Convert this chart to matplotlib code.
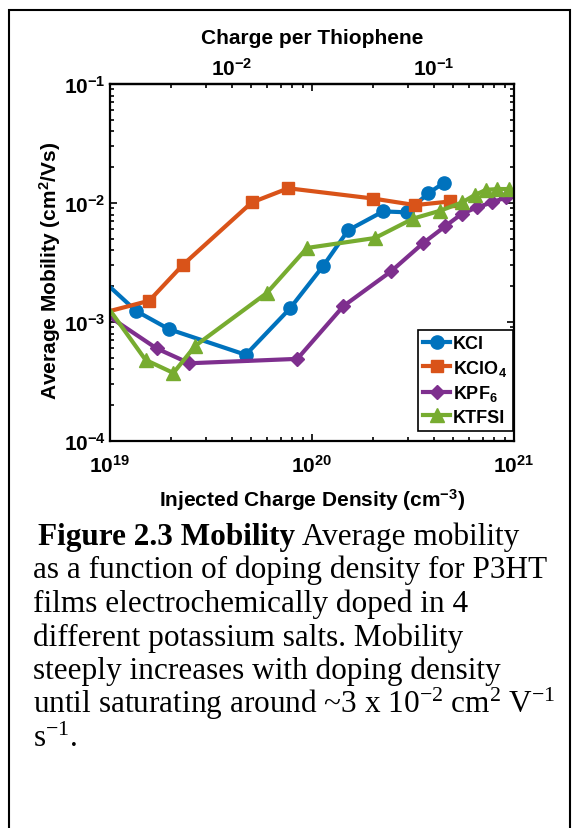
import matplotlib.pyplot as plt
from matplotlib.patches import Rectangle
from matplotlib.ticker import NullLocator

plt.rcParams['font.family'] = 'Liberation Sans'
plt.rcParams['font.weight'] = 'bold'
plt.rcParams['axes.labelweight'] = 'bold'
plt.rcParams['mathtext.fontset'] = 'custom'
plt.rcParams['mathtext.default'] = 'regular'

# injected charge density (cm^-3) and average mobility (cm^2/Vs)
KCl_n = [9.0e18, 1.345e19, 1.96e19, 4.70e19, 7.78e19, 1.138e20, 1.51e20,
         2.25e20, 2.94e20, 3.77e20, 4.48e20]
KCl_mu = [2.32e-3, 1.24e-3, 8.7e-4, 5.3e-4, 1.30e-3, 2.97e-3, 5.9e-3,
          8.5e-3, 8.35e-3, 1.21e-2, 1.47e-2]

KClO4_n = [9.0e18, 1.565e19, 2.29e19, 5.03e19, 7.63e19, 2.01e20, 3.24e20, 4.82e20]
KClO4_mu = [1.18e-3, 1.51e-3, 3.01e-3, 1.01e-2, 1.33e-2, 1.09e-2, 9.6e-3, 1.03e-2]

KPF6_n = [9.0e18, 1.70e19, 2.47e19, 8.46e19, 1.43e20, 2.46e20, 3.55e20,
          4.55e20, 5.51e20, 6.56e20, 7.78e20, 9.18e20]
KPF6_mu = [1.24e-3, 6.0e-4, 4.5e-4, 4.9e-4, 1.36e-3, 2.66e-3, 4.6e-3,
           6.35e-3, 8.1e-3, 9.2e-3, 1.01e-2, 1.12e-2]

KTFSI_n = [9.0e18, 1.50e19, 2.06e19, 2.64e19, 5.97e19, 9.45e19, 2.05e20,
           3.17e20, 4.30e20, 5.53e20, 6.41e20, 7.27e20, 8.28e20, 9.45e20]
KTFSI_mu = [1.61e-3, 4.8e-4, 3.73e-4, 6.3e-4, 1.75e-3, 4.19e-3, 5.08e-3,
            7.4e-3, 8.6e-3, 1.01e-2, 1.17e-2, 1.29e-2, 1.31e-2, 1.31e-2]

N_THIO = 4.0e21  # thiophene density of P3HT, cm^-3

caption = [
    'as a function of doping density for P3HT',
    'films electrochemically doped in 4',
    'different potassium salts. Mobility',
    'steeply increases with doping density',
    r'until saturating around ~3 x 10$^{-2}$ cm$^{2}$ V$^{-1}$',
    r's$^{-1}$.',
]

W, H = 579, 829
fig = plt.figure(figsize=(W / 100, H / 100), dpi=100)
ax = fig.add_axes([110 / W, 1 - 442 / H, 404 / W, 357 / H])

ax.plot(KCl_n, KCl_mu, '-o', color='#0072BD', lw=3, ms=9.5, label='KCl')
ax.plot(KClO4_n, KClO4_mu, '-s', color='#D95319', lw=3, ms=9, label='KClO$_4$')
ax.plot(KPF6_n, KPF6_mu, '-D', color='#7E2F8E', lw=3, ms=7.5, label='KPF$_6$')
ax.plot(KTFSI_n, KTFSI_mu, '-^', color='#77AC30', lw=3, ms=10.5, label='KTFSI')

ax.set_xscale('log')
ax.set_yscale('log')
ax.set_xlim(1e19, 1e21)
ax.set_ylim(1e-4, 1e-1)

for s in ax.spines.values():
    s.set_linewidth(1.6)
ax.tick_params(which='both', direction='in', top=True, right=True, width=1.2)
ax.tick_params(which='major', length=5)
ax.tick_params(which='minor', length=3)
ax.tick_params(axis='x', labelsize=15, pad=9)
ax.tick_params(axis='y', labelsize=15, pad=3)

ax.set_xlabel('Injected Charge Density (cm$^{-3}$)', fontsize=15, labelpad=8)
ax.set_ylabel('Average Mobility (cm$^{2}$/Vs)', fontsize=15)
ax.yaxis.set_label_coords(-0.116, 0.48)

sec = ax.secondary_xaxis('top', functions=(lambda x: x / N_THIO, lambda q: q * N_THIO))
sec.set_xticks([1e-2, 1e-1])
sec.xaxis.set_minor_locator(NullLocator())
sec.tick_params(which='both', length=0, labelsize=15, pad=4)
sec.spines['top'].set_linewidth(1.6)
sec.set_xlabel('Charge per Thiophene', fontsize=15, labelpad=10)

leg = ax.legend(loc='lower right', bbox_to_anchor=(0.997, 0.028), borderaxespad=0,
                fontsize=13, fancybox=False, edgecolor='black', framealpha=1,
                handlelength=1.5, handletextpad=0.15, labelspacing=0.3, borderpad=0.3)
leg.get_frame().set_linewidth(1.2)

# page frame around figure + caption
fig.add_artist(Rectangle((9 / W, -0.1), 561 / W, 1.1 - 11 / H, transform=fig.transFigure,
                         fill=False, lw=1.5, ec='black'))

cap_kw = dict(fontsize=22.5, family='Liberation Serif', va='baseline')
t1 = fig.text(38 / W, 1 - 545 / H, 'Figure 2.3 Mobility', fontweight='bold', **cap_kw)
fig.canvas.draw()
bb = t1.get_window_extent()
fig.text((bb.x1 + 7.5) / W, 1 - 545 / H, 'Average mobility', fontweight='normal', **cap_kw)

y0 = 578
for i, line in enumerate(caption):
    fig.text(33 / W, 1 - (y0 + 33.8 * i) / H, line, fontweight='normal', **cap_kw)

fig.savefig('out.png', dpi=100)
